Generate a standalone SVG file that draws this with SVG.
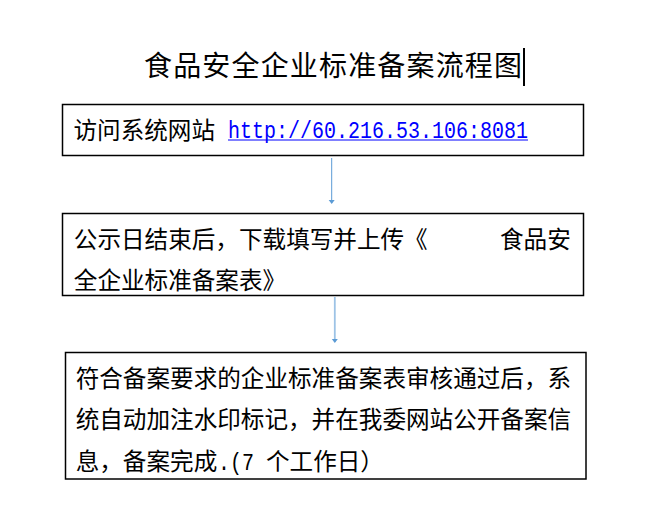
<svg xmlns="http://www.w3.org/2000/svg" width="653" height="518" viewBox="0 0 653 518">
<style>
.box{fill:#fff;stroke:#000;stroke-width:1.5}
.t{font-family:"Noto Sans CJK SC","Noto Sans CJK JP",sans-serif;font-size:23.6px;fill:#000}
.title{font-family:"Noto Sans CJK SC","Noto Sans CJK JP",sans-serif;font-size:28px;fill:#000}
.mono{font-family:"Liberation Mono","DejaVu Sans Mono",monospace;font-size:23px}
.url{fill:#0000ff}
</style>
<defs>
<marker id="ah1" markerUnits="userSpaceOnUse" markerWidth="8" markerHeight="8" refX="3" refY="4" orient="auto">
<path d="M0,1 L4,4 L0,7 Z" fill="#5b9bd5"/>
</marker>
<marker id="ah2" markerUnits="userSpaceOnUse" markerWidth="8" markerHeight="8" refX="3" refY="4" orient="auto">
<path d="M0,1 L4,4 L0,7 Z" fill="#5b9bd5"/>
</marker>
</defs>
<rect width="653" height="518" fill="#fff"/>
<g id="title">
<text class="title" x="144" y="76" textLength="378" lengthAdjust="spacing">食品安全企业标准备案流程图</text>
<rect x="523" y="48" width="2" height="38" fill="#000"/>
</g>
<g id="connectors">
<line x1="331.7" y1="158" x2="331.7" y2="203" stroke="#5b9bd5" stroke-width="1" marker-end="url(#ah1)"/>
<line x1="334.8" y1="297" x2="334.8" y2="342" stroke="#9dc3e6" stroke-width="1.8" marker-end="url(#ah2)"/>
</g>
<g id="node1">
<rect class="box" x="62.5" y="104.5" width="521" height="51"/>
<text class="t" x="73.5" y="138.5">访问系统网站</text>
<text class="mono url" x="228" y="138" textLength="300" lengthAdjust="spacingAndGlyphs">http://60.216.53.106:8081</text>
<line x1="228" y1="140" x2="528" y2="140" stroke="#0000ff" stroke-width="1"/>
</g>
<g id="node2">
<rect class="box" x="62.5" y="213.5" width="521" height="82"/>
<text class="t" x="73.8" y="247.7">公示日结束后，下载填写并上传《</text>
<text class="t" x="500" y="247.7">食品安</text>
<text class="t" x="73.8" y="288.5">全企业标准备案表》</text>
</g>
<g id="node3">
<rect class="box" x="65.5" y="352.5" width="520.5" height="126.5"/>
<text class="t" x="75.7" y="386.7">符合备案要求的企业标准备案表审核通过后，系</text>
<text class="t" x="75.7" y="428.4">统自动加注水印标记，并在我委网站公开备案信</text>
<text class="t" x="75.7" y="470">息，备案完成<tspan class="mono" x="218" textLength="36" lengthAdjust="spacingAndGlyphs">.(7</tspan><tspan x="266">个工作日）</tspan></text>
</g>
</svg>
